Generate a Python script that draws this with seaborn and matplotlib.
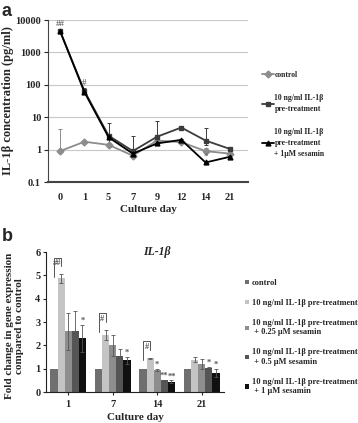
import numpy as np
import pandas as pd
import matplotlib
matplotlib.use("Agg")
import matplotlib.pyplot as plt
import seaborn as sns

# panel a: IL-1b concentration in medium
days_a = ["0", "1", "5", "7", "9", "12", "14", "21"]
groups_a = ["control", "10 ng/ml IL-1β\npre-treatment", "10 ng/ml IL-1β\npre-treatment\n+ 1μM sesamin"]
control_a = [0.9, 1.75, 1.4, 0.65, 1.9, 1.7, 0.9, 0.75]
pre_a = [4500, 65, 2.7, 0.9, 2.5, 4.8, 1.9, 1.05]
sesamin_a = [4500, 60, 2.4, 0.75, 1.55, 2.0, 0.4, 0.6]
control_a_lo = [0.0, 0.1, 0.2, 0.05, 0.3, 0.15, 0.1, 0.05]
control_a_hi = [3.4, 0.15, 0.2, 0.1, 0.3, 0.2, 0.2, 0.1]
pre_a_lo = [500, 10, 1.5, 0.2, 0.5, 0.4, 0.5, 0.1]
pre_a_hi = [500, 15, 3.8, 1.7, 5.0, 0.5, 2.6, 0.1]
sesamin_a_lo = [300, 8, 0.3, 0.1, 0.2, 0.2, 0.05, 0.05]
sesamin_a_hi = [300, 10, 0.4, 0.1, 0.2, 0.2, 0.05, 0.05]
sig_pre_a = ["##", "#", "", "", "", "", "", ""]
sig_sesamin_a = ["", "", "", "", "", "", "*", ""]

# panel b: IL-1b gene expression
days_b = ["1", "7", "14", "21"]
groups_b = ["control", "10 ng/ml IL-1β pre-treatment",
            "10 ng/ml IL-1β pre-treatment\n + 0.25 μM sesamin",
            "10 ng/ml IL-1β pre-treatment\n + 0.5 μM sesamin",
            "10 ng/ml IL-1β pre-treatment\n + 1 μM sesamin"]
fold_control = [1.0, 1.0, 1.0, 1.0]
fold_pre = [4.87, 2.45, 1.45, 1.38]
fold_025 = [2.6, 2.0, 0.95, 1.2]
fold_05 = [2.63, 1.55, 0.5, 1.02]
fold_1 = [2.3, 1.37, 0.45, 0.82]
err_control = [0.0, 0.0, 0.0, 0.0]
err_pre = [0.18, 0.22, 0.02, 0.1]
err_025 = [0.8, 0.45, 0.03, 0.2]
err_05 = [0.85, 0.28, 0.03, 0.05]
err_1 = [0.58, 0.15, 0.05, 0.18]
sig_025 = ["", "", "*", ""]
sig_05 = ["", "", "**", "*"]
sig_1 = ["*", "*", "**", "*"]
hash_b = ["##", "#", "#", ""]

sns.set_style("white")
plt.rcParams['font.family'] = ['Liberation Serif', 'DejaVu Serif']
plt.rcParams['font.weight'] = 'bold'
plt.rcParams['axes.labelweight'] = 'bold'

fig = plt.figure(figsize=(3.58, 4.23), dpi=100)
W, H = 358.0, 423.0
ax_a = fig.add_axes([48 / W, 1 - 182 / H, 200 / W, 162 / H])
ax_b = fig.add_axes([46 / W, 1 - 392 / H, 178 / W, 140 / H])

# ---- panel a
colors_a = ["#8c8c8c", "#3c3c3c", "#000000"]
rows = []
for g, vals in zip(groups_a, [control_a, pre_a, sesamin_a]):
    for d, v in zip(days_a, vals):
        rows.append({"day": d, "conc": v, "group": g})
df_a = pd.DataFrame(rows)

ax_a.set_yscale("log")
ax_a.yaxis.grid(True, color="#c8c8c8", linewidth=0.8)
ax_a.set_axisbelow(True)

series = [(control_a, control_a_lo, control_a_hi), (pre_a, pre_a_lo, pre_a_hi),
          (sesamin_a, sesamin_a_lo, sesamin_a_hi)]
for (vals, lo, hi), c in zip(series, colors_a):
    ax_a.errorbar(np.arange(len(days_a)), vals, yerr=[lo, hi], fmt="none",
                  ecolor=c, elinewidth=0.7, capsize=1.5, capthick=0.7)

sns.pointplot(data=df_a, x="day", y="conc", hue="group", order=days_a,
              hue_order=groups_a, palette=colors_a, markers=["D", "s", "^"],
              linestyles="-", errorbar=None, markersize=3.5, linewidth=1.3,
              ax=ax_a)

for i, s in enumerate(sig_pre_a):
    if s:
        ax_a.annotate(s, (i, pre_a[i] + pre_a_hi[i]), xytext=(0, 1),
                      textcoords="offset points", ha="center", va="bottom",
                      fontsize=6.5, color="#6e6e6e")
for i, s in enumerate(sig_sesamin_a):
    if s:
        ax_a.annotate(s, (i, sesamin_a[i] + sesamin_a_hi[i]), xytext=(0, 0),
                      textcoords="offset points", ha="center", va="bottom",
                      fontsize=6.5, color="#6e6e6e")

ax_a.set_ylim(0.1, 10000)
ax_a.set_xlim(-0.5, 7.75)
ax_a.yaxis.set_major_formatter(matplotlib.ticker.FormatStrFormatter("%g"))
ax_a.yaxis.set_minor_locator(matplotlib.ticker.NullLocator())
ax_a.tick_params(axis="y", length=3, width=0.8, pad=2, labelsize=7.5, left=True)
ax_a.tick_params(axis="x", length=0, pad=8, labelsize=7.5)
for sp in ["top", "right"]:
    ax_a.spines[sp].set_visible(False)
ax_a.spines["left"].set_color("#444444")
ax_a.spines["bottom"].set_color("#444444")
ax_a.spines["bottom"].set_linewidth(1.5)
ax_a.set_xlabel("Culture day", fontsize=8)
ax_a.set_ylabel("IL-1β concentration (pg/ml)", fontsize=9)
ax_a.yaxis.set_label_coords(-0.17, 0.5)
ax_a.xaxis.set_label_coords(0.5, -0.14)
leg_a = ax_a.legend(loc="upper left", bbox_to_anchor=(262 / W, 1 - 71 / H),
                    bbox_transform=fig.transFigure, frameon=False, title=None,
                    fontsize=5.6, labelspacing=1.9, handlelength=1.5,
                    handletextpad=0.1, borderaxespad=0, borderpad=0)
for t in leg_a.get_texts():
    t.set_linespacing(1.5)

# ---- panel b
colors_b = ["#6f6f6f", "#c4c4c4", "#8e8e8e", "#555555", "#101010"]
all_fold = [fold_control, fold_pre, fold_025, fold_05, fold_1]
all_err = [err_control, err_pre, err_025, err_05, err_1]
all_sig = [["", "", "", ""], ["", "", "", ""], sig_025, sig_05, sig_1]
rows = []
for g, vals in zip(groups_b, all_fold):
    for d, v in zip(days_b, vals):
        rows.append({"day": d, "fold": v, "group": g})
df_b = pd.DataFrame(rows)

sns.barplot(data=df_b, x="day", y="fold", hue="group", order=days_b,
            hue_order=groups_b, palette=colors_b, errorbar=None, width=0.8,
            saturation=1, linewidth=0, edgecolor="none", ax=ax_b)

bar_conts = list(ax_b.containers)
centers = []
for k, cont in enumerate(bar_conts):
    xs = [b.get_x() + b.get_width() / 2 for b in cont]
    centers.append(xs)
    if k > 0:
        ax_b.errorbar(xs, all_fold[k], yerr=all_err[k], fmt="none",
                      ecolor="#555555", elinewidth=0.6, capsize=1.5, capthick=0.6)
    for j, s in enumerate(all_sig[k]):
        if s:
            ax_b.annotate(s, (xs[j], all_fold[k][j] + all_err[k][j]),
                          xytext=(0, 0), textcoords="offset points",
                          ha="center", va="bottom", fontsize=6, color="#555555")

# brackets control vs pre-treatment
for j, s in enumerate(hash_b):
    if s:
        x0, x1 = centers[0][j], centers[1][j]
        top = fold_pre[j] + err_pre[j] + 0.7
        ax_b.plot([x0, x0, x1, x1], [top - 0.8, top, top, top - 0.35],
                  color="#555555", linewidth=0.7)
        ax_b.text((x0 + x1) / 2, top - 0.05, s, ha="center", va="top",
                  fontsize=6, color="#555555")

ax_b.set_ylim(0, 6)
ax_b.set_xlim(-0.5, 3.5)
ax_b.set_yticks(range(7))
ax_b.tick_params(axis="y", length=2, width=0.8, pad=2, labelsize=7.5, left=True)
ax_b.tick_params(axis="x", length=2, width=0.8, pad=4, labelsize=7.5, bottom=True)
for sp in ["top", "right"]:
    ax_b.spines[sp].set_visible(False)
ax_b.spines["left"].set_color("#222222")
ax_b.spines["bottom"].set_color("#222222")
ax_b.set_xlabel("Culture day", fontsize=8)
ax_b.set_ylabel("Fold change in gene expression\ncompared to control",
                fontsize=8, linespacing=1.1)
ax_b.yaxis.set_label_coords(-0.125, 0.47)
ax_b.xaxis.set_label_coords(0.5, -0.15)
ax_b.text(0.62, 1.0, "IL-1β", transform=ax_b.transAxes, ha="center",
          va="center", fontsize=8.5, style="italic")
ax_b.legend(loc="upper left", bbox_to_anchor=(245 / W, 1 - 279 / H),
            bbox_transform=fig.transFigure, frameon=False, title=None,
            fontsize=6, labelspacing=1.45, handlelength=0.45, handleheight=0.45,
            handletextpad=0.35, borderaxespad=0, borderpad=0)

fig.text(2 / W, 1 - 12 / H, "a", fontsize=13, fontweight="bold",
         family="Liberation Sans", va="center")
fig.text(2 / W, 1 - 236 / H, "b", fontsize=13, fontweight="bold",
         family="Liberation Sans", va="center")

fig.savefig("out.png", dpi=100)
